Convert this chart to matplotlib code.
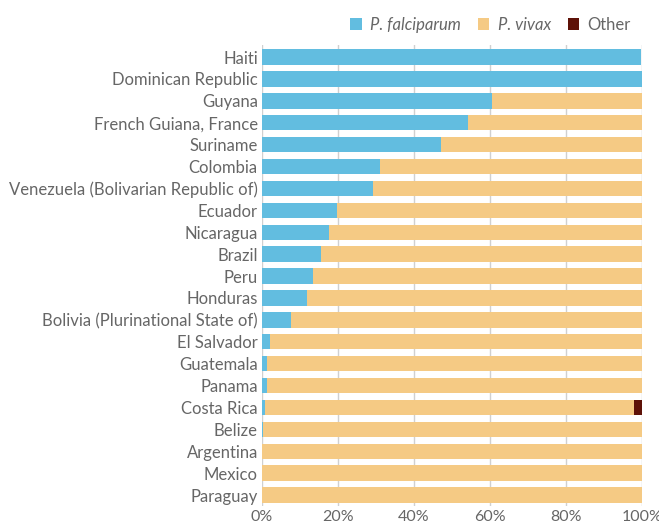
import matplotlib.pyplot as plt
import numpy as np

countries = ['Haiti', 'Dominican Republic', 'Guyana', 'French Guiana, France', 'Suriname',
             'Colombia', 'Venezuela (Bolivarian Republic of)', 'Ecuador', 'Nicaragua', 'Brazil',
             'Peru', 'Honduras', 'Bolivia (Plurinational State of)', 'El Salvador', 'Guatemala',
             'Panama', 'Costa Rica', 'Belize', 'Argentina', 'Mexico', 'Paraguay']
falciparum = [99.8, 99.9, 60.4, 54.2, 47.1, 31.0, 29.1, 19.7, 17.7, 15.4, 13.4, 11.8, 7.5,
              2.0, 1.2, 1.2, 0.8, 0.35, 0.0, 0.0, 0.0]
other = [0, 0, 0, 0, 0, 0, 0, 0, 0, 0, 0, 0, 0, 0, 0, 0, 2.0, 0, 0, 0, 0]
vivax = [100 - f - o for f, o in zip(falciparum, other)]
vivax[0] = 0.0
vivax[1] = 0.0

plt.rcParams['font.family'] = ['Lato', 'DejaVu Sans']
txt = '#666666'

fig = plt.figure(figsize=(6.59, 5.29), dpi=100)
ax = fig.add_axes([262 / 659, 1 - 506 / 529, 380 / 659, (506 - 45) / 529])

y = np.arange(len(countries))
f = np.array(falciparum)
v = np.array(vivax)
o = np.array(other)
ax.barh(y, f, height=0.7, color='#62bde0', label='P. falciparum', zorder=3)
ax.barh(y, v, left=f, height=0.7, color='#f5ca84', label='P. vivax', zorder=3)
ax.barh(y, o, left=f + v, height=0.7, color='#5e1208', label='Other', zorder=3)

ax.set_ylim(len(countries) - 0.5, -0.55)
ax.set_xlim(0, 100)
ax.set_yticks(y)
ax.set_yticklabels(countries, fontsize=12, color=txt)
ax.set_xticks([0, 20, 40, 60, 80, 100])
ax.set_xticklabels(['0%', '20%', '40%', '60%', '80%', '100%'], fontsize=11.5, color=txt)
ax.tick_params(length=0, pad=3)
for s in ax.spines.values():
    s.set_visible(False)
ax.grid(axis='x', color='#d0d0d0', linewidth=1, zorder=0)

leg = fig.legend(loc='upper right', bbox_to_anchor=(646 / 659, 1 - 2 / 529), ncol=3,
                 frameon=False, fontsize=12, handlelength=0.7, handleheight=0.7,
                 handletextpad=0.5, columnspacing=1.0)
for t in leg.get_texts():
    t.set_color(txt)
leg.get_texts()[0].set_style('italic')
leg.get_texts()[1].set_style('italic')

fig.savefig('out.png', dpi=100)
